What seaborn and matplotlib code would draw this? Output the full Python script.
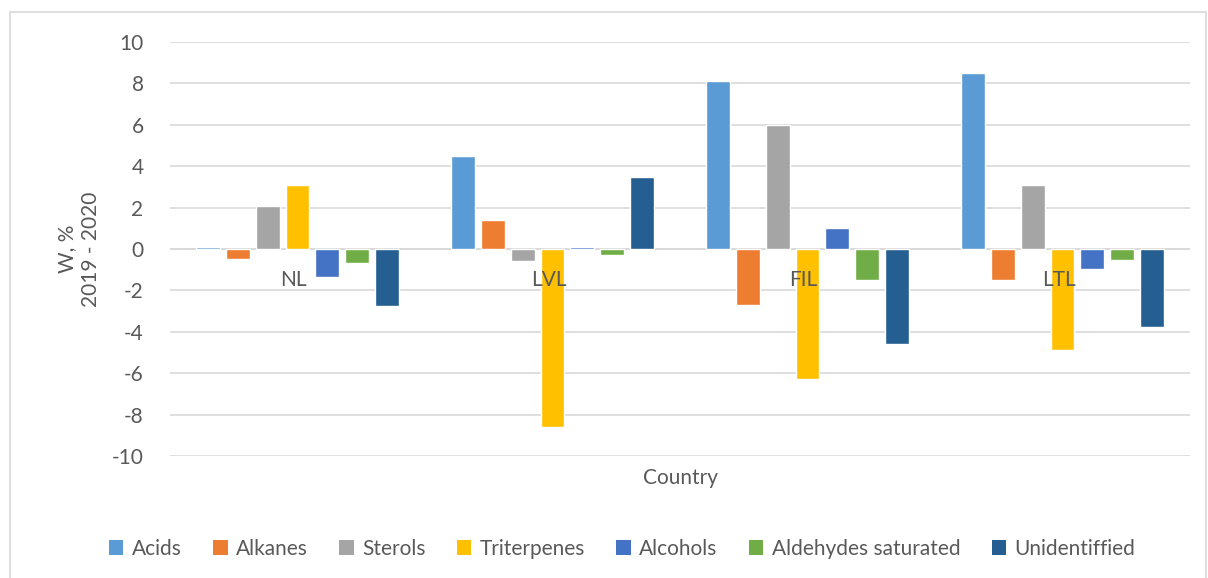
import numpy as np
import pandas as pd
import matplotlib
matplotlib.use("Agg")
import matplotlib.pyplot as plt
import seaborn as sns
from matplotlib.patches import Rectangle, Patch

# data
countries = ["NL", "LVL", "FIL", "LTL"]
groups = ["Acids", "Alkanes", "Sterols", "Triterpenes", "Alcohols",
          "Aldehydes saturated", "Unidentiffied"]
acids = [0.1, 4.5, 8.1, 8.5]
alkanes = [-0.5, 1.4, -2.7, -1.5]
sterols = [2.1, -0.6, 6.0, 3.1]
triterpenes = [3.1, -8.6, -6.3, -4.9]
alcohols = [-1.35, 0.1, 1.0, -0.95]
aldehydes = [-0.7, -0.3, -1.5, -0.55]
unident = [-2.75, 3.5, -4.6, -3.75]
colors = ["#5B9BD5", "#ED7D31", "#A5A5A5", "#FFC000", "#4472C4", "#70AD47", "#255E91"]

series = [acids, alkanes, sterols, triterpenes, alcohols, aldehydes, unident]
rows = []
for g, vals in zip(groups, series):
    for c, v in zip(countries, vals):
        rows.append({"Country": c, "Group": g, "W": v})
df = pd.DataFrame(rows)

sns.set_style("white")
plt.rcParams["font.family"] = ["Lato", "DejaVu Sans"]
plt.rcParams["axes.unicode_minus"] = False
txt = "#595959"
grid = "#D9D9D9"

fig = plt.figure(figsize=(12.08, 5.78), dpi=100)
fig.patches.append(Rectangle((10 / 1208, -0.01), 1196 / 1208, 1 - 12 / 578 + 0.01,
                             transform=fig.transFigure, fill=False,
                             edgecolor=grid, linewidth=1.2))
ax = fig.add_axes([170 / 1208, 1 - 456 / 578, 1020 / 1208, 414 / 578])

sns.barplot(data=df, x="Country", y="W", hue="Group", hue_order=groups,
            palette=colors, width=0.82, gap=0.2, ax=ax, legend=False,
            saturation=1)

ax.set_ylim(-10, 10)
ax.set_yticks(np.arange(-10, 11, 2))
ax.set_xlim(-0.5, 3.5)
ax.yaxis.grid(True, color=grid, linewidth=1.2)
ax.set_axisbelow(True)
for s in ["top", "right", "left", "bottom"]:
    ax.spines[s].set_visible(False)
ax.axhline(0, color=grid, linewidth=1.2, zorder=0)
ax.set_xticklabels([])
ax.tick_params(axis="x", length=0)
ax.tick_params(axis="y", length=0, pad=19, labelsize=15, labelcolor=txt)

# category labels sit just under the zero line, on top of the bars
for i, c in enumerate(countries):
    ax.text(i - 0.015, -1.5, c, ha="center", va="center", fontsize=15,
            color=txt, zorder=10)

ax.set_ylabel("W, %\n2019 - 2020", fontsize=15, color=txt, labelpad=8)
ax.set_xlabel("Country", fontsize=15, color=txt)
ax.xaxis.set_label_coords(0.5, -0.028)
ax.xaxis.label.set_va("top")

handles = [Patch(facecolor=c, edgecolor="none") for c in colors]
fig.legend(handles, groups, loc="center", bbox_to_anchor=(0.515, 1 - 549 / 578),
           ncol=7, frameon=False, fontsize=15, labelcolor=txt,
           handlelength=0.7, handleheight=0.7, handletextpad=0.4, columnspacing=1.5)

fig.savefig("out.png", dpi=100)
